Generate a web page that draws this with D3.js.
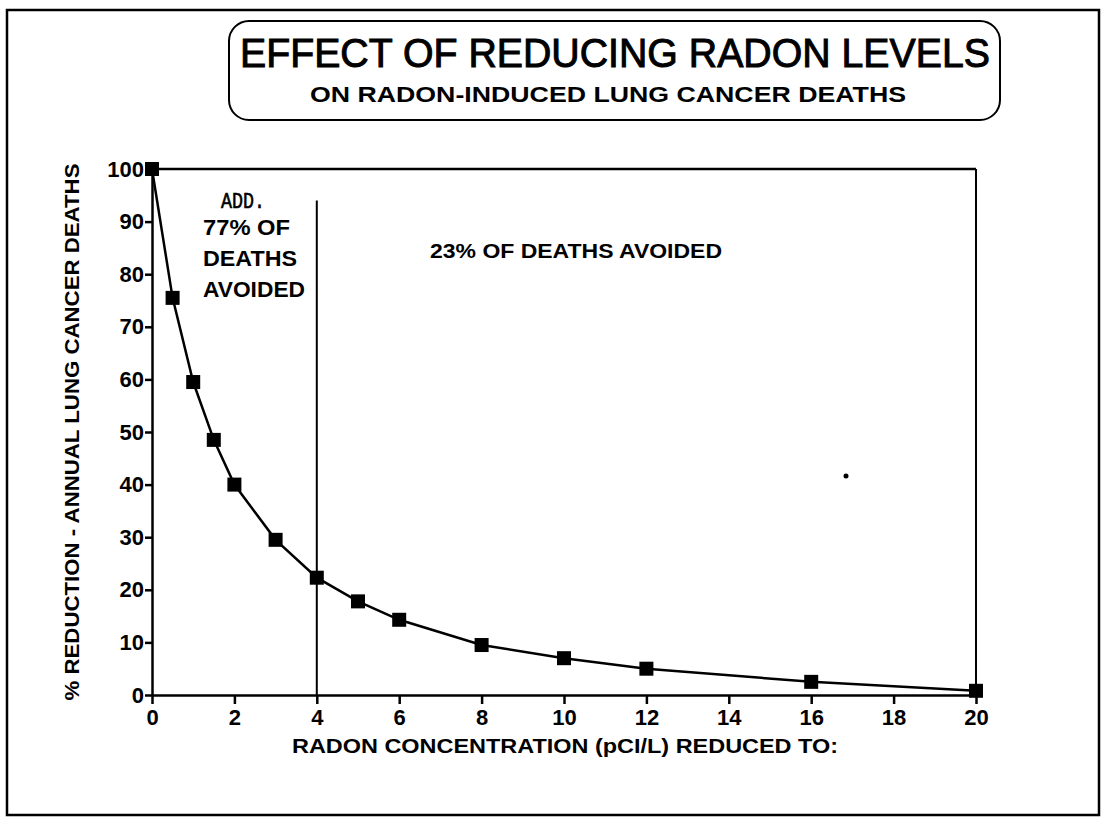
<!DOCTYPE html>
<html>
<head>
<meta charset="utf-8">
<script src="https://cdn.jsdelivr.net/npm/d3@7"></script>
<style>
  body { margin: 0; background: #fff; }
</style>
</head>
<body>
<script>
// radon level reduced to (pCi/L) and % of annual deaths remaining
var radonLevels = [0, 0.5, 1, 1.5, 2, 3, 4, 5, 6, 8, 10, 12, 16, 20];
var pctDeaths = [100, 75.5, 59.5, 48.5, 40, 29.5, 22.3, 17.8, 14.3, 9.5, 7, 5, 2.5, 0.8];
var xTicks = [0, 2, 4, 6, 8, 10, 12, 14, 16, 18, 20];
var yTicks = [0, 10, 20, 30, 40, 50, 60, 70, 80, 90, 100];
var cutoff = 4;

var W = 1104, H = 820;
var plot = {left: 152, right: 976, top: 169, bottom: 695};
var sans = '"Liberation Sans", Arial, sans-serif';

var svg = d3.select('body').append('svg')
  .attr('width', W).attr('height', H)
  .style('font-family', sans);

// outer frame
svg.append('rect')
  .attr('x', 7).attr('y', 10).attr('width', 1092).attr('height', 805)
  .attr('fill', 'none').attr('stroke', '#000').attr('stroke-width', 2.5);

// title box
svg.append('rect')
  .attr('x', 229).attr('y', 21).attr('width', 771).attr('height', 99)
  .attr('rx', 20).attr('ry', 20)
  .attr('fill', 'none').attr('stroke', '#000').attr('stroke-width', 2);

svg.append('text')
  .attr('x', 615).attr('y', 67)
  .attr('text-anchor', 'middle')
  .attr('font-size', 41)
  .attr('stroke', '#000').attr('stroke-width', 1)
  .attr('textLength', 750).attr('lengthAdjust', 'spacingAndGlyphs')
  .text('EFFECT OF REDUCING RADON LEVELS');

svg.append('text')
  .attr('x', 608).attr('y', 102)
  .attr('text-anchor', 'middle')
  .attr('font-size', 22).attr('font-weight', 'bold')
  .attr('textLength', 596).attr('lengthAdjust', 'spacingAndGlyphs')
  .text('ON RADON-INDUCED LUNG CANCER DEATHS');

var x = d3.scaleLinear().domain([0, 20]).range([plot.left, plot.right]);
var y = d3.scaleLinear().domain([0, 100]).range([plot.bottom, plot.top]);

// x axis
var xAxis = svg.append('g')
  .attr('transform', 'translate(0,' + plot.bottom + ')')
  .call(d3.axisBottom(x).tickValues(xTicks).tickSize(9).tickPadding(5).tickSizeOuter(0));

// y axis
var yAxis = svg.append('g')
  .attr('transform', 'translate(' + plot.left + ',0)')
  .call(d3.axisLeft(y).tickValues(yTicks).tickSize(7).tickPadding(1).tickSizeOuter(0));

[xAxis, yAxis].forEach(function(g) {
  g.attr('font-size', 22).attr('font-family', null);
  g.select('.domain').attr('stroke-width', 2.5);
  g.selectAll('.tick line').attr('stroke-width', 2.5);
  g.selectAll('.tick text')
    .style('font-family', sans)
    .attr('font-weight', 'bold');
});

// top and right frame of plot
svg.append('line')
  .attr('x1', x(0)).attr('x2', x(20)).attr('y1', y(100)).attr('y2', y(100))
  .attr('stroke', '#000').attr('stroke-width', 2.5);
svg.append('line')
  .attr('x1', x(20)).attr('x2', x(20)).attr('y1', y(100)).attr('y2', y(0))
  .attr('stroke', '#000').attr('stroke-width', 2);

// 4 pCi/L cutoff
svg.append('line')
  .attr('x1', x(cutoff)).attr('x2', x(cutoff)).attr('y1', y(94)).attr('y2', y(0))
  .attr('stroke', '#000').attr('stroke-width', 2);

// axis titles
svg.append('text')
  .attr('transform', 'translate(79,432) rotate(-90)')
  .attr('text-anchor', 'middle')
  .attr('font-size', 21).attr('font-weight', 'bold')
  .attr('textLength', 537).attr('lengthAdjust', 'spacingAndGlyphs')
  .text('% REDUCTION - ANNUAL LUNG CANCER DEATHS');

svg.append('text')
  .attr('x', 565).attr('y', 753)
  .attr('text-anchor', 'middle')
  .attr('font-size', 21).attr('font-weight', 'bold')
  .attr('textLength', 546).attr('lengthAdjust', 'spacingAndGlyphs')
  .text('RADON CONCENTRATION (pCI/L) REDUCED TO:');

// curve
var line = d3.line()
  .x(function(d, i) { return x(radonLevels[i]); })
  .y(function(d) { return y(d); });

svg.append('path')
  .datum(pctDeaths)
  .attr('d', line)
  .attr('fill', 'none').attr('stroke', '#000').attr('stroke-width', 2.5);

svg.selectAll('rect.marker')
  .data(pctDeaths)
  .enter()
    .append('rect')
    .attr('class', 'marker')
    .attr('x', function(d, i) { return x(radonLevels[i]) - 7; })
    .attr('y', function(d) { return y(d) - 7; })
    .attr('width', 14).attr('height', 14)
    .attr('fill', '#000');

// annotations
svg.append('text')
  .attr('x', 221).attr('y', 208)
  .style('font-family', '"Liberation Mono", "DejaVu Sans Mono", monospace')
  .attr('font-size', 22)
  .attr('stroke', '#000').attr('stroke-width', 0.6)
  .attr('textLength', 44).attr('lengthAdjust', 'spacingAndGlyphs')
  .text('ADD.');

var leftNote = ['77% OF', 'DEATHS', 'AVOIDED'];
var leftNoteWidth = [87, 94, 102];
svg.selectAll('text.leftnote')
  .data(leftNote)
  .enter()
    .append('text')
    .attr('class', 'leftnote')
    .attr('x', 203)
    .attr('y', function(d, i) { return 235 + i * 31; })
    .attr('font-size', 22).attr('font-weight', 'bold')
    .attr('textLength', function(d, i) { return leftNoteWidth[i]; })
    .attr('lengthAdjust', 'spacingAndGlyphs')
    .text(function(d) { return d; });

svg.append('text')
  .attr('x', 430).attr('y', 258)
  .attr('font-size', 21).attr('font-weight', 'bold')
  .attr('textLength', 292).attr('lengthAdjust', 'spacingAndGlyphs')
  .text('23% OF DEATHS AVOIDED');

// stray speck in the scan
svg.append('circle')
  .attr('cx', 846).attr('cy', 476).attr('r', 2.5).attr('fill', '#000');
</script>
</body>
</html>
